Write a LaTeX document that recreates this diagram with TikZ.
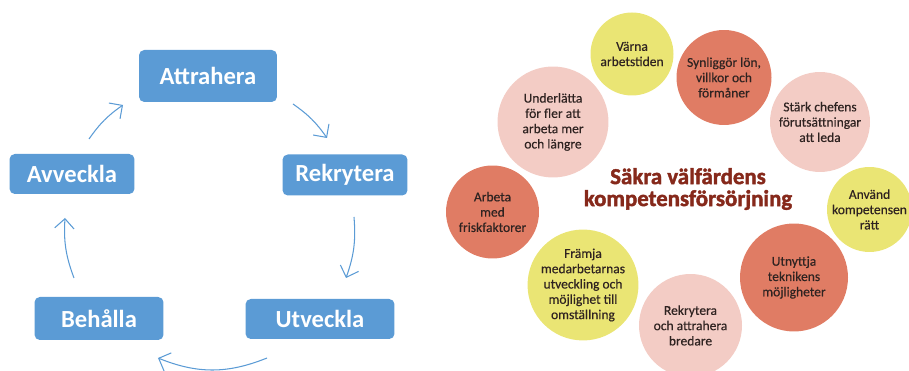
\documentclass[tikz,border=0pt]{standalone}
\usepackage{fontspec}
\setmainfont{Carlito}
\newfontfamily\headfont[FakeBold=1.8]{Carlito Bold}
\newfontfamily\blobfont[FakeBold=0.4]{Carlito}
\usetikzlibrary{arrows.meta}
\definecolor{boxblue}{HTML}{5B9BD5}
\definecolor{ylw}{HTML}{EAE574}
\definecolor{org}{HTML}{E07C64}
\definecolor{pnk}{HTML}{F3CCC5}
\definecolor{ttl}{HTML}{86291B}
\definecolor{txt}{HTML}{2F2321}
\begin{document}
\begin{tikzpicture}
		[x=0.02cm,y=0.02cm,
		box/.style={rectangle,draw=none,fill=boxblue,rounded corners=3pt,outer sep=0pt,
			minimum width=2.5cm,minimum height=0.82cm,text=white,font=\fontsize{14}{16}\selectfont\bfseries},
		blob/.style={circle,draw=none,outer sep=0pt,inner sep=0pt,align=center,text=txt,
			font=\blobfont\fontsize{7.7}{8.7}\selectfont},
		arr/.style={draw=boxblue,line width=0.6pt,-{Straight Barb[length=5.5pt,width=11pt]}}
		]
		\useasboundingbox (0,0) rectangle (909,371);
		% left cycle
		\node[box,minimum width=2.76cm,minimum height=1.04cm] (attr) at (208,295){Attrahera};
		\node[box] (rek) at (345,196){Rekrytera};
		\node[box,minimum width=2.98cm,minimum height=0.8cm] (utv) at (320,52){Utveckla};
		\node[box,minimum width=2.58cm,minimum height=0.86cm] (beh) at (99,52.5){Behålla};
		\node[box,minimum height=0.8cm] (avv) at (72,197){Avveckla};

		\draw[arr] ([shift={(16,-2)}]attr.south east) to[bend left=10] ([shift={(-18,16.5)}]rek.north);
		\draw[arr] ([shift={(9,-21.5)}]rek.south) to[bend left=12] ([shift={(26,21)}]utv.north);
		\draw[arr] ([shift={(-53,-19)}]utv.south) to[bend left=22] ([shift={(-5.5,-18)}]beh.south east);
		\draw[arr] ([shift={(-25,19)}]beh.north) to[bend left=12] ([shift={(-7,-24)}]avv.south);
		\draw[arr] ([shift={(17,15)}]avv.north) to[bend left=10] ([shift={(-16,-3)}]attr.south west);

		% right circles
		\node[blob,fill=ylw,minimum size=1.66cm] (varna) at (632,317){Värna\\arbetstiden};
		\node[blob,fill=org,minimum size=1.9cm] (synl) at (724,293.5){Synliggör lön,\\villkor och\\förmåner};
		\node[blob,fill=pnk,minimum size=2.22cm] (underl) at (553,249){Underlätta\\för fler att\\arbeta mer\\och längre};
		\node[blob,fill=pnk,minimum size=2cm] (stark) at (820,249){Stärk chefens\\förutsättningar\\att leda};
		\node[blob,fill=org,minimum size=1.86cm] (arbeta) at (492.5,159){Arbeta\\med\\friskfaktorer};
		\node[blob,fill=ylw,minimum size=1.7cm] (anvand) at (869.5,161.5){Använd\\kompetensen\\rätt};
		\node[blob,fill=ylw,minimum size=2.2cm] (framja) at (583,86){Främja\\medarbetarnas\\utveckling och\\möjlighet till\\omställning};
		\node[blob,fill=org,minimum size=2.16cm] (utn) at (794,93.5){Utnyttja\\teknikens\\möjligheter};
		\node[blob,fill=pnk,minimum size=2.06cm] (rekb) at (690.5,45.5){Rekrytera\\och attrahera\\bredare};

		\node[align=center,text=ttl,font=\headfont\fontsize{13}{12.5}\selectfont] (head) at (688,182){Säkra välfärdens\\kompetensförsörjning};
	\end{tikzpicture}
\end{document}
